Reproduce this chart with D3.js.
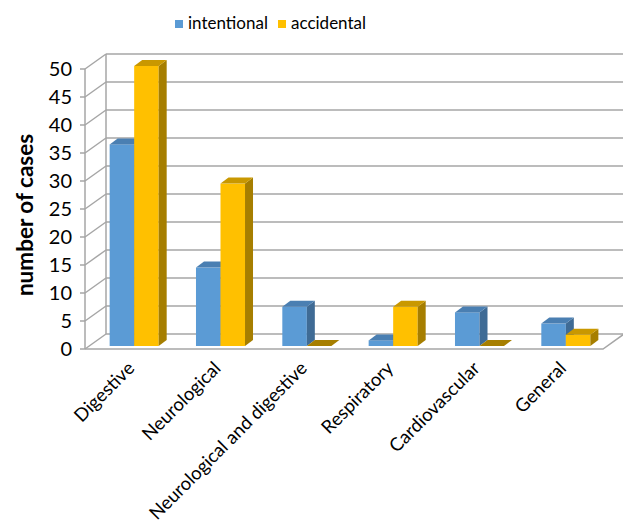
<!DOCTYPE html>
<html>
<head>
<meta charset="utf-8">
<script src="https://cdn.jsdelivr.net/npm/d3@7"></script>
<style>
  body { margin: 0; background: #fff; }
  text { font-family: Lato, "Open Sans", sans-serif; fill: #000; }
</style>
</head>
<body>
<div id="chart"></div>
<script>
// data
const categories = ["Digestive", "Neurological", "Neurological and digestive", "Respiratory", "Cardiovascular", "General"];
const intentional = [36, 14, 7, 1, 6, 4];
const accidental = [50, 29, 0, 7, 0, 2];
const seriesNames = ["intentional", "accidental"];
const yTicks = [0, 5, 10, 15, 20, 25, 30, 35, 40, 45, 50];

const width = 623, height = 522;
const colors = {
  intentional: { front: "#5B9BD5", top: "#4A7FB2", side: "#3F6B95" },
  accidental: { front: "#FFC000", top: "#C99800", side: "#A67E00" }
};

const svg = d3.select("#chart").append("svg")
  .attr("width", width).attr("height", height);

// 3D geometry
const floor = { left: 85, right: 603, y: 349 };
const depth = { dx: 21, dy: -15 };   // back wall offset
const barShift = { dx: 6, dy: -3 };   // bars sit a little behind the front edge
const barDepth = { dx: 8, dy: -6 };   // bar thickness

const y = d3.scaleLinear().domain([0, 50]).range([floor.y, 69]);
const x = d3.scaleBand().domain(categories)
  .range([floor.left, floor.right])
  .paddingInner(0.432).paddingOuter(0.216);
const xs = d3.scaleBand().domain(seriesNames).range([0, x.bandwidth()]);

const gridColor = "#A6A6A6";
const walls = svg.append("g");

// back wall gridlines + side wall diagonals
yTicks.forEach(v => {
  walls.append("line")
    .attr("x1", floor.left + depth.dx).attr("y1", y(v) + depth.dy)
    .attr("x2", floor.right + depth.dx).attr("y2", y(v) + depth.dy)
    .attr("stroke", gridColor).attr("stroke-width", 1.5);
  walls.append("line")
    .attr("x1", floor.left).attr("y1", y(v))
    .attr("x2", floor.left + depth.dx).attr("y2", y(v) + depth.dy)
    .attr("stroke", gridColor).attr("stroke-width", 1.5);
  // tick mark
  walls.append("line")
    .attr("x1", floor.left - 5).attr("y1", y(v))
    .attr("x2", floor.left).attr("y2", y(v))
    .attr("stroke", gridColor).attr("stroke-width", 1.5);
});

// back left vertical edge and front axis
walls.append("line")
  .attr("x1", floor.left + depth.dx).attr("y1", y(0) + depth.dy)
  .attr("x2", floor.left + depth.dx).attr("y2", y(50) + depth.dy)
  .attr("stroke", gridColor).attr("stroke-width", 1.5);
walls.append("line")
  .attr("x1", floor.left).attr("y1", y(0))
  .attr("x2", floor.left).attr("y2", y(50))
  .attr("stroke", gridColor).attr("stroke-width", 1.5);

// floor front edge and right edge
walls.append("path")
  .attr("d", "M" + floor.left + "," + floor.y + "H" + floor.right +
    "L" + (floor.right + depth.dx) + "," + (floor.y + depth.dy))
  .attr("fill", "none").attr("stroke", gridColor).attr("stroke-width", 1.5);

// y tick labels
svg.append("g").selectAll("text")
  .data(yTicks).join("text")
  .attr("x", 72).attr("y", d => y(d))
  .attr("dy", "0.36em")
  .attr("text-anchor", "end")
  .style("font-size", "20px")
  .text(d => d);

// y title
svg.append("text")
  .attr("transform", "translate(33,215) rotate(-90)")
  .attr("text-anchor", "middle")
  .style("font-size", "22.5px").style("font-weight", "bold")
  .text("number of cases");

// bars
const bars = svg.append("g");
const base = floor.y + barShift.dy;
categories.forEach((c, i) => {
  [["intentional", intentional[i]], ["accidental", accidental[i]]].forEach(([s, v]) => {
    const x0 = x(c) + xs(s) + barShift.dx;
    const w = xs.bandwidth();
    const top = y(v) + barShift.dy;
    const col = colors[s];
    const g = bars.append("g");
    if (v > 0) {
      g.append("rect")
        .attr("x", x0).attr("y", top)
        .attr("width", w).attr("height", base - top)
        .attr("fill", col.front);
      g.append("path")
        .attr("d", "M" + (x0 + w) + "," + top + "l" + barDepth.dx + "," + barDepth.dy +
          "V" + (base + barDepth.dy) + "L" + (x0 + w) + "," + base + "Z")
        .attr("fill", col.side);
    }
    g.append("path")
      .attr("d", "M" + x0 + "," + top + "l" + barDepth.dx + "," + barDepth.dy +
        "h" + w + "l" + (-barDepth.dx) + "," + (-barDepth.dy) + "Z")
      .attr("fill", v > 0 ? col.top : col.side);
  });
});

// category labels
svg.append("g").selectAll("text")
  .data(categories).join("text")
  .attr("transform", d => "translate(" + (x(d) + x.bandwidth() / 2 - 2) + ",360) rotate(-45)")
  .attr("text-anchor", "end")
  .attr("dy", "0.72em")
  .style("font-size", "18.5px")
  .text(d => d);

// legend
const legend = svg.append("g");
const legendX = [175, 278];
seriesNames.forEach((s, i) => {
  legend.append("rect")
    .attr("x", legendX[i]).attr("y", 20)
    .attr("width", 8).attr("height", 8)
    .attr("fill", colors[s].front);
  legend.append("text")
    .attr("x", legendX[i] + 13).attr("y", 29)
    .style("font-size", "17px")
    .text(s);
});
</script>
</body>
</html>
